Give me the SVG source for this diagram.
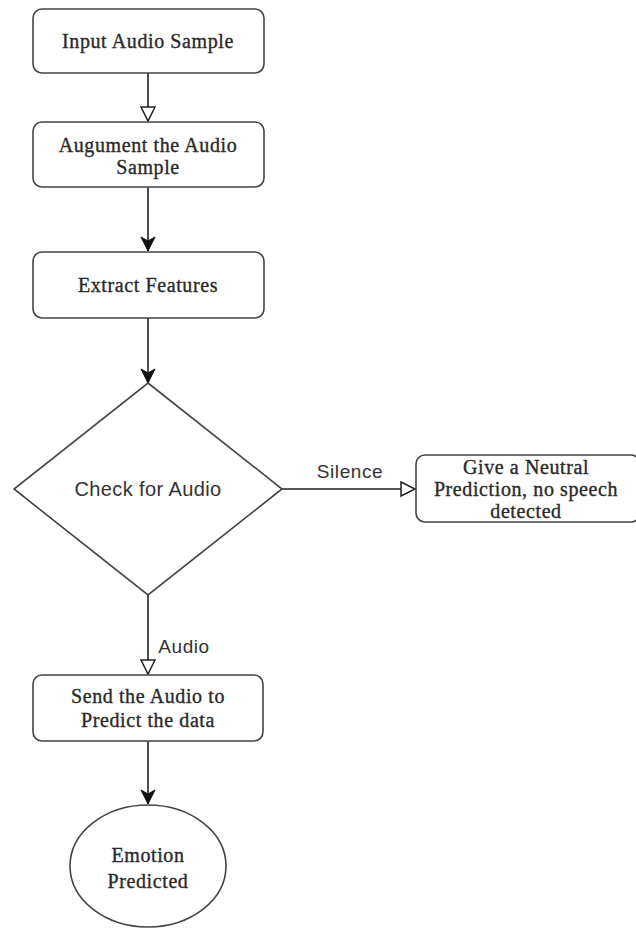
<svg xmlns="http://www.w3.org/2000/svg" width="636" height="930" viewBox="0 0 636 930">
<defs>
<marker id="open" markerWidth="18" markerHeight="18" refX="15" refY="8" orient="auto" markerUnits="userSpaceOnUse">
<path d="M1,1 L15,8 L1,15 Z" fill="#fff" stroke="#222" stroke-width="1.5"/>
</marker>
<marker id="filled" markerWidth="18" markerHeight="18" refX="15" refY="8" orient="auto" markerUnits="userSpaceOnUse">
<path d="M1,1 L15,8 L1,15 L5,8 Z" fill="#111" stroke="#111" stroke-width="1"/>
</marker>
<style>
.box{fill:#fff;stroke:#444;stroke-width:1.6}
.t{font-family:"Liberation Serif","Times New Roman",serif;font-size:20px;letter-spacing:0.6px;fill:#2a2a2a;stroke:#2a2a2a;stroke-width:0.35;text-anchor:middle}
.s{font-family:"Liberation Sans",Arial,sans-serif;fill:#333;text-anchor:middle}
.e{fill:none;stroke:#222;stroke-width:1.6}
</style>
</defs>
<rect width="636" height="930" fill="#fff"/>
<g id="connectors">
<line class="e" x1="148" y1="73" x2="148" y2="121" marker-end="url(#open)"/>
<line class="e" x1="148" y1="187" x2="148" y2="251" marker-end="url(#filled)"/>
<line class="e" x1="148" y1="318" x2="148" y2="383" marker-end="url(#filled)"/>
<line class="e" x1="282" y1="489" x2="415" y2="489" marker-end="url(#open)"/>
<line class="e" x1="148" y1="595" x2="148" y2="674" marker-end="url(#open)"/>
<line class="e" x1="148" y1="741" x2="148" y2="804" marker-end="url(#filled)"/>
<text class="s" x="350" y="478" font-size="19" letter-spacing="0.6">Silence</text>
<text class="s" x="184" y="653" font-size="19" letter-spacing="0.6">Audio</text>
</g>
<g id="input">
<rect class="box" x="33" y="9" width="231" height="64" rx="9"/>
<text class="t" x="148" y="48">Input Audio Sample</text>
</g>
<g id="augment">
<rect class="box" x="33" y="122" width="231" height="65" rx="9"/>
<text class="t" x="148" y="152">Augument the Audio</text>
<text class="t" x="148" y="174">Sample</text>
</g>
<g id="extract">
<rect class="box" x="33" y="252" width="231" height="66" rx="9"/>
<text class="t" x="148" y="292">Extract Features</text>
</g>
<g id="check">
<polygon class="box" points="148,383 282,489 148,595 14,489"/>
<text class="s" x="148" y="496" font-size="20" letter-spacing="0.4">Check for Audio</text>
</g>
<g id="neutral">
<rect class="box" x="416" y="455" width="224" height="67" rx="9"/>
<text class="t" x="526" y="474" font-size="19" letter-spacing="1.4">Give a Neutral</text>
<text class="t" x="526" y="496" font-size="19" letter-spacing="1.4">Prediction, no speech</text>
<text class="t" x="526" y="518" font-size="19" letter-spacing="1.4">detected</text>
</g>
<g id="send">
<rect class="box" x="33" y="675" width="230" height="66" rx="9"/>
<text class="t" x="148" y="703">Send the Audio to</text>
<text class="t" x="148" y="727">Predict the data</text>
</g>
<g id="emotion">
<ellipse class="box" cx="148" cy="866" rx="78" ry="61"/>
<text class="t" x="148" y="862">Emotion</text>
<text class="t" x="148" y="888">Predicted</text>
</g>
</svg>
